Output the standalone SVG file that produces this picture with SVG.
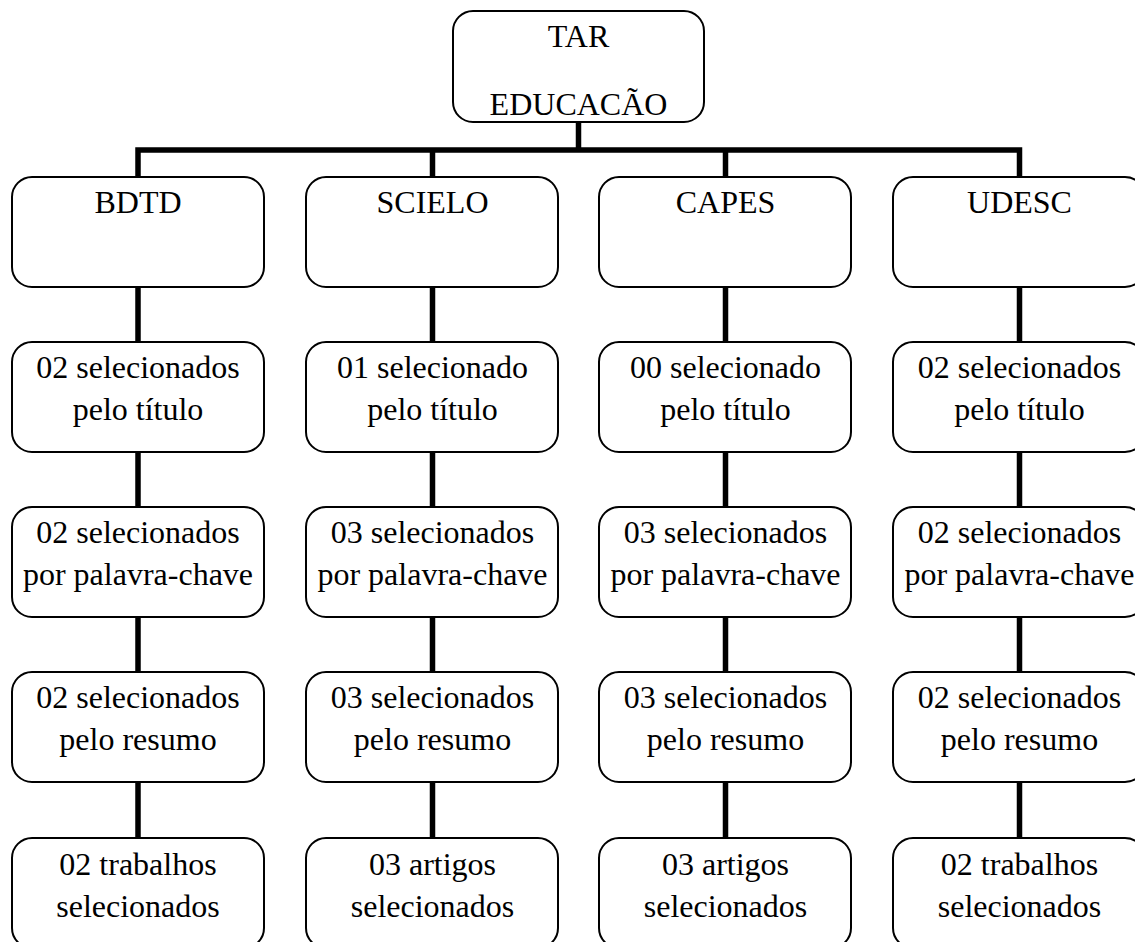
<svg xmlns="http://www.w3.org/2000/svg" width="1135" height="942" viewBox="0 0 1135 942">
<style>
.box{fill:#fff;stroke:#000;stroke-width:2}
.t{font-family:'Liberation Serif','Times New Roman',Tinos,'Nimbus Roman','DejaVu Serif',serif;font-size:32px;fill:#000;text-anchor:middle}
.c{fill:none;stroke:#000;stroke-width:5.5;stroke-linejoin:miter}
</style>
<rect width="1135" height="942" fill="#fff"/>
<g id="connectors">
<path class="c" d="M138,177 V150 H1019.5 V177"/>
<path class="c" d="M578.5,122 V150"/>
<path class="c" d="M432.5,150 V177"/>
<path class="c" d="M725.5,150 V177"/>
<path class="c" d="M138,287 V342 M138,452 V507 M138,617 V672 M138,782 V838"/>
<path class="c" d="M432.5,287 V342 M432.5,452 V507 M432.5,617 V672 M432.5,782 V838"/>
<path class="c" d="M725.5,287 V342 M725.5,452 V507 M725.5,617 V672 M725.5,782 V838"/>
<path class="c" d="M1019.5,287 V342 M1019.5,452 V507 M1019.5,617 V672 M1019.5,782 V838"/>
</g>
<g id="root"><rect class="box" x="453" y="11" width="251" height="111" rx="20"/><text class="t" x="578.5" y="47" font-family="Liberation Serif">TAR</text><text class="t" x="578.5" y="115">EDUCACÃO</text></g>

<g id="bdtd"><rect class="box" x="12" y="177" width="252" height="110" rx="20"/><text class="t" x="138" y="213">BDTD</text></g>
<g id="scielo"><rect class="box" x="306" y="177" width="252" height="110" rx="20"/><text class="t" x="432.5" y="213">SCIELO</text></g>
<g id="capes"><rect class="box" x="599" y="177" width="252" height="110" rx="20"/><text class="t" x="725.5" y="213">CAPES</text></g>
<g id="udesc"><rect class="box" x="893" y="177" width="252" height="110" rx="20"/><text class="t" x="1019.5" y="213">UDESC</text></g>

<g id="bdtd-titulo"><rect class="box" x="12" y="342" width="252" height="110" rx="20"/><text class="t" x="138" y="378">02 selecionados</text><text class="t" x="138" y="420">pelo título</text></g>
<g id="scielo-titulo"><rect class="box" x="306" y="342" width="252" height="110" rx="20"/><text class="t" x="432.5" y="378">01 selecionado</text><text class="t" x="432.5" y="420">pelo título</text></g>
<g id="capes-titulo"><rect class="box" x="599" y="342" width="252" height="110" rx="20"/><text class="t" x="725.5" y="378">00 selecionado</text><text class="t" x="725.5" y="420">pelo título</text></g>
<g id="udesc-titulo"><rect class="box" x="893" y="342" width="252" height="110" rx="20"/><text class="t" x="1019.5" y="378">02 selecionados</text><text class="t" x="1019.5" y="420">pelo título</text></g>

<g id="bdtd-chave"><rect class="box" x="12" y="507" width="252" height="110" rx="20"/><text class="t" x="138" y="543">02 selecionados</text><text class="t" x="138" y="585">por palavra-chave</text></g>
<g id="scielo-chave"><rect class="box" x="306" y="507" width="252" height="110" rx="20"/><text class="t" x="432.5" y="543">03 selecionados</text><text class="t" x="432.5" y="585">por palavra-chave</text></g>
<g id="capes-chave"><rect class="box" x="599" y="507" width="252" height="110" rx="20"/><text class="t" x="725.5" y="543">03 selecionados</text><text class="t" x="725.5" y="585">por palavra-chave</text></g>
<g id="udesc-chave"><rect class="box" x="893" y="507" width="252" height="110" rx="20"/><text class="t" x="1019.5" y="543">02 selecionados</text><text class="t" x="1019.5" y="585">por palavra-chave</text></g>

<g id="bdtd-resumo"><rect class="box" x="12" y="672" width="252" height="110" rx="20"/><text class="t" x="138" y="708">02 selecionados</text><text class="t" x="138" y="750">pelo resumo</text></g>
<g id="scielo-resumo"><rect class="box" x="306" y="672" width="252" height="110" rx="20"/><text class="t" x="432.5" y="708">03 selecionados</text><text class="t" x="432.5" y="750">pelo resumo</text></g>
<g id="capes-resumo"><rect class="box" x="599" y="672" width="252" height="110" rx="20"/><text class="t" x="725.5" y="708">03 selecionados</text><text class="t" x="725.5" y="750">pelo resumo</text></g>
<g id="udesc-resumo"><rect class="box" x="893" y="672" width="252" height="110" rx="20"/><text class="t" x="1019.5" y="708">02 selecionados</text><text class="t" x="1019.5" y="750">pelo resumo</text></g>

<g id="bdtd-final"><rect class="box" x="12" y="838" width="252" height="110" rx="20"/><text class="t" x="138" y="875">02 trabalhos</text><text class="t" x="138" y="917">selecionados</text></g>
<g id="scielo-final"><rect class="box" x="306" y="838" width="252" height="110" rx="20"/><text class="t" x="432.5" y="875">03 artigos</text><text class="t" x="432.5" y="917">selecionados</text></g>
<g id="capes-final"><rect class="box" x="599" y="838" width="252" height="110" rx="20"/><text class="t" x="725.5" y="875">03 artigos</text><text class="t" x="725.5" y="917">selecionados</text></g>
<g id="udesc-final"><rect class="box" x="893" y="838" width="252" height="110" rx="20"/><text class="t" x="1019.5" y="875">02 trabalhos</text><text class="t" x="1019.5" y="917">selecionados</text></g>
</svg>
